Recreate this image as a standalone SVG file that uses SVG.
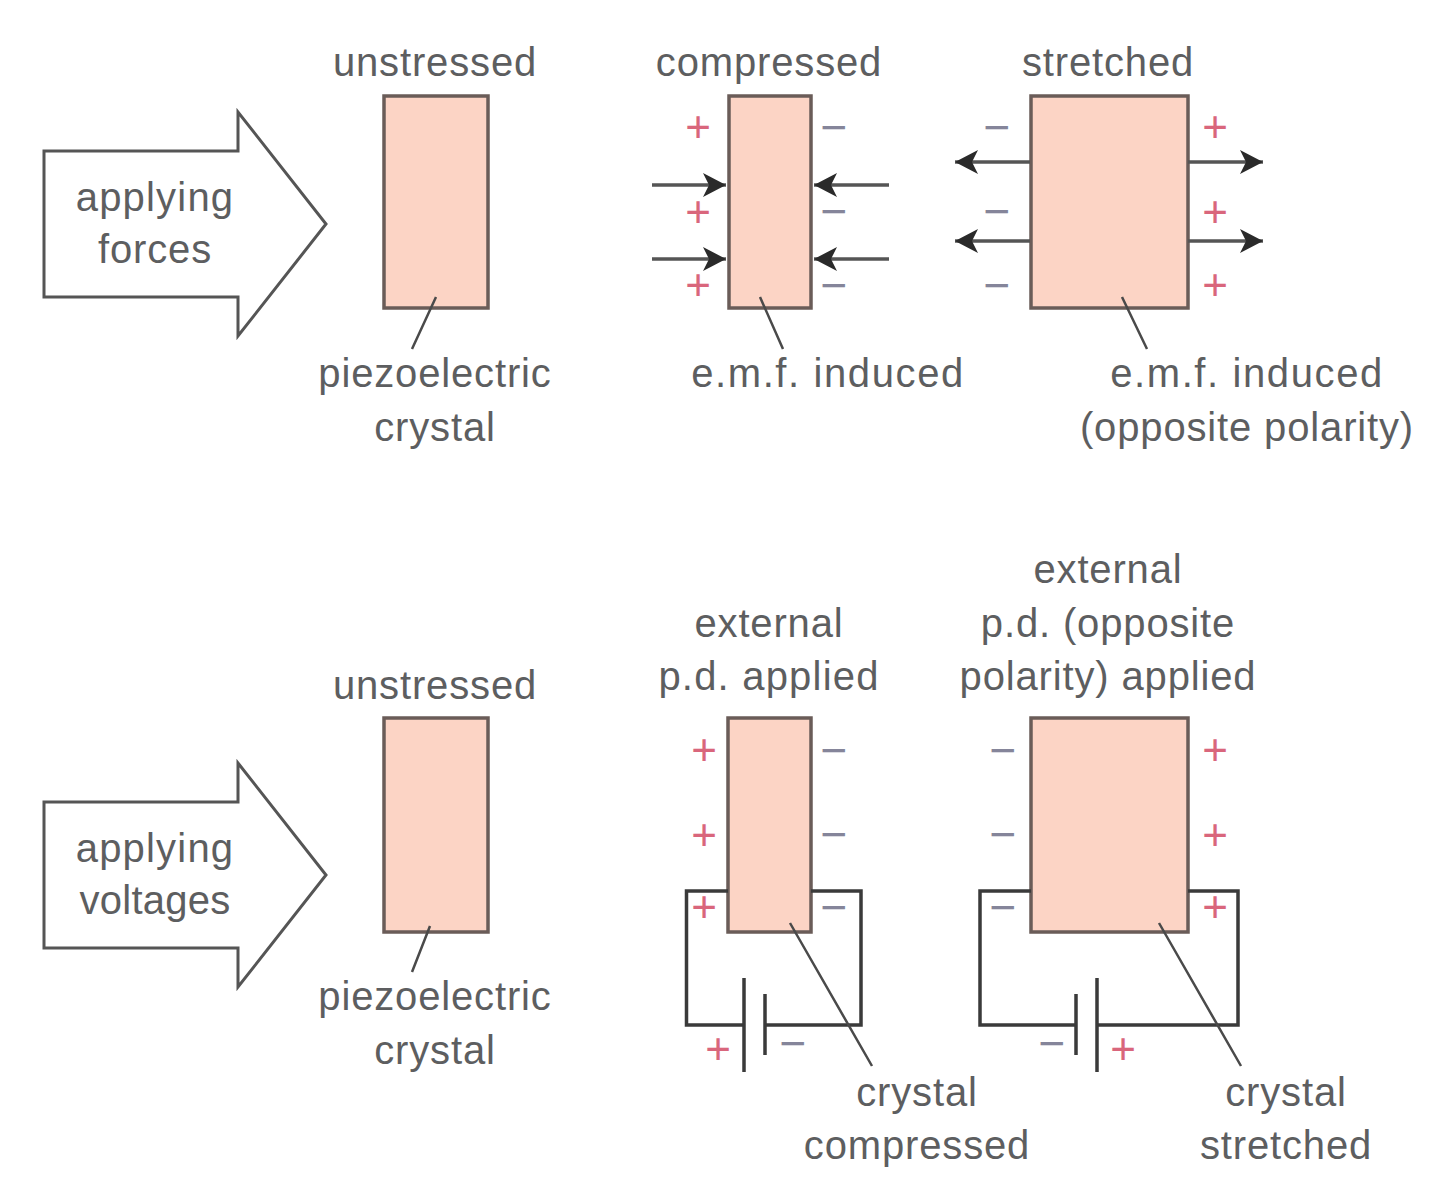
<svg xmlns="http://www.w3.org/2000/svg" width="1440" height="1195" viewBox="0 0 1440 1195">
<defs><marker id="ah" markerUnits="userSpaceOnUse" markerWidth="26" markerHeight="26" refX="23" refY="13" orient="auto"><path d="M0 1L23 13L0 25L6 13Z" fill="#2a2a2a"/></marker></defs>
<style>
text{font-family:"Liberation Sans",Arial,sans-serif;font-size:40px;fill:#5d5e60;text-anchor:middle;letter-spacing:.85px}
.c{fill:#fcd4c5;stroke:#6a5c58;stroke-width:3.5}
.a{fill:#fff;stroke:#555;stroke-width:3}
.l{stroke:#4a4a4a;stroke-width:2.5;fill:none}
.w{stroke:#3a3a3a;stroke-width:3.5;fill:none}
.f{stroke:#555;stroke-width:3.5;fill:none;marker-end:url(#ah)}
text.p{fill:#d9667c;font-size:44px;letter-spacing:0}
text.m{fill:#85859a;font-size:46px;letter-spacing:0}
text.e{letter-spacing:1.6px}
text.n{letter-spacing:.25px}
text.d{letter-spacing:1.2px}
</style>
<rect width="1440" height="1195" fill="#fff"/>
<g id="arrow-forces"><path class="a" d="M44 151H238V112L326 224L238 336V297H44Z"/><text class="d" x="155" y="211">applying</text><text x="155" y="263">forces</text></g>
<g id="arrow-voltages"><path class="a" d="M44 802H238V763L326 875L238 987V948H44Z"/><text class="d" x="155" y="862">applying</text><text class="n" x="155" y="914">voltages</text></g>
<g id="crystal-1"><rect class="c" x="384" y="96" width="104" height="212"/><text x="435" y="76">unstressed</text><text x="435" y="387">piezoelectric</text><text x="435" y="441">crystal</text></g>
<g id="crystal-2"><rect class="c" x="729" y="96" width="82" height="212"/><text x="769" y="76">compressed</text><text class="e" x="828" y="387">e.m.f. induced</text>
<text class="p" x="698" y="142">+</text><text class="p" x="698" y="227">+</text><text class="p" x="698" y="300">+</text><text class="m" x="834" y="143">−</text><text class="m" x="834" y="227">−</text><text class="m" x="834" y="301">−</text></g>
<g id="crystal-3"><rect class="c" x="1031" y="96" width="157" height="212"/><text x="1108" y="76">stretched</text><text class="e" x="1247" y="387">e.m.f. induced</text><text x="1247" y="441">(opposite polarity)</text>
<text class="m" x="997" y="143">−</text><text class="m" x="997" y="227">−</text><text class="m" x="997" y="301">−</text><text class="p" x="1215" y="142">+</text><text class="p" x="1215" y="227">+</text><text class="p" x="1215" y="300">+</text></g>
<g id="crystal-4"><rect class="c" x="384" y="718" width="104" height="214"/><text x="435" y="699">unstressed</text><text x="435" y="1010">piezoelectric</text><text x="435" y="1064">crystal</text></g>
<g id="crystal-5"><rect class="c" x="728" y="718" width="83" height="214"/><text x="769" y="637">external</text><text class="d" x="769" y="690">p.d. applied</text>
<text class="p" x="704" y="765">+</text><text class="p" x="704" y="850">+</text><text class="p" x="704" y="922">+</text><text class="m" x="834" y="766">−</text><text class="m" x="834" y="850">−</text><text class="m" x="834" y="923">−</text>
<text class="p" x="718" y="1064">+</text><text class="m" x="793" y="1059">−</text><text x="917" y="1106">crystal</text><text x="917" y="1159">compressed</text></g>
<g id="crystal-6"><rect class="c" x="1031" y="718" width="157" height="214"/><text x="1108" y="583">external</text><text x="1108" y="637">p.d. (opposite</text><text x="1108" y="690">polarity) applied</text>
<text class="m" x="1003" y="766">−</text><text class="m" x="1003" y="850">−</text><text class="m" x="1003" y="923">−</text><text class="p" x="1215" y="765">+</text><text class="p" x="1215" y="850">+</text><text class="p" x="1215" y="922">+</text>
<text class="m" x="1052" y="1059">−</text><text class="p" x="1123" y="1064">+</text><text x="1286" y="1106">crystal</text><text x="1286" y="1159">stretched</text></g>
<g id="connectors">
<path class="w" d="M728 891H686.500V1025H744M811 891H861V1025H765"/>
<path class="w" d="M1031 891H980V1025H1076M1188 891H1238V1025H1097"/>
<path class="w" d="M744 978V1072M765 994V1055M1076 994V1055M1097 978V1072"/>
<path class="l" d="M436 297L412 349M760 297L783 349M1122 297L1147 349M430 926L412 972M790 923L872 1066M1159 923L1241 1066"/>
<path class="f" d="M652 185H726"/><path class="f" d="M652 259H726"/>
<path class="f" d="M889 185H814"/><path class="f" d="M889 259H814"/>
<path class="f" d="M1030 162H955"/><path class="f" d="M1030 241H955"/>
<path class="f" d="M1188 162H1263"/><path class="f" d="M1188 241H1263"/>
</g>
</svg>
